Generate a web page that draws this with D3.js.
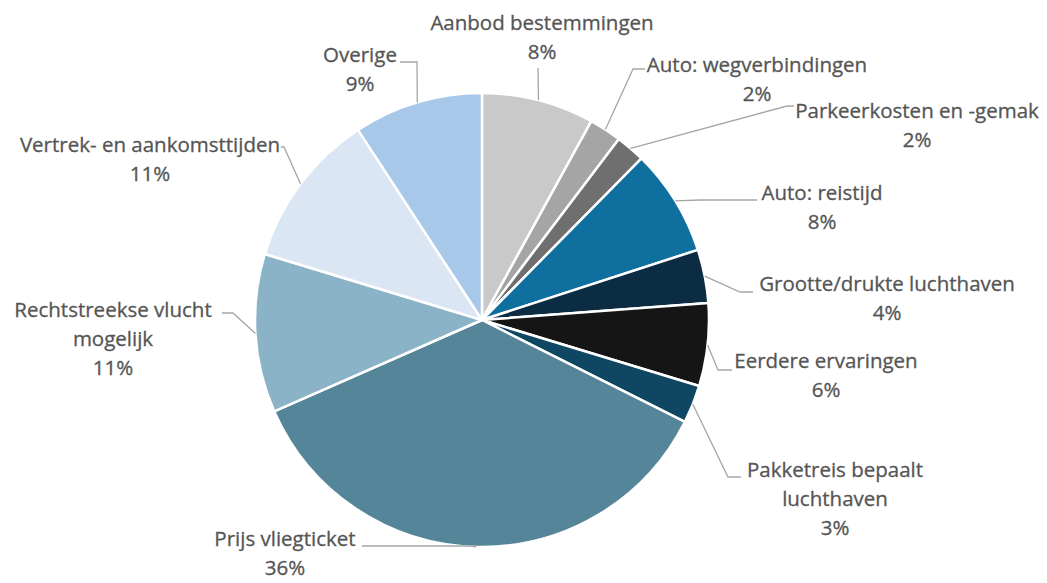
<!DOCTYPE html>
<html>
<head>
<meta charset="utf-8">
<script src="https://cdn.jsdelivr.net/npm/d3@7"></script>
<style>
  body { margin: 0; background: #fff; }
  text { font-family: "Open Sans", sans-serif; font-size: 20.5px; fill: #555; stroke: #555; stroke-width: 0.3px; }
</style>
</head>
<body>
<div id="piechart"></div>
<script>
// data, clockwise from 12 o'clock

const categories = [
  "Aanbod bestemmingen", "Auto: wegverbindingen", "Parkeerkosten en -gemak",
  "Auto: reistijd", "Grootte/drukte luchthaven", "Eerdere ervaringen",
  "Pakketreis bepaalt luchthaven", "Prijs vliegticket", "Rechtstreekse vlucht mogelijk",
  "Vertrek- en aankomsttijden", "Overige"
];
const values = [8.0, 2.3, 2.1, 7.6, 3.8, 5.9, 2.7, 36.0, 11.3, 11.1, 9.2];
const colors = [
  "#c9c9c9", "#a5a5a5", "#6f6f6f", "#0f6f9e", "#0b2c42", "#151515",
  "#0f4661", "#548599", "#8bb3c7", "#dbe6f4", "#a8c8e9"
];
// how each label is broken into lines
const labelLines = [
  ["Aanbod bestemmingen"], ["Auto: wegverbindingen"], ["Parkeerkosten en -gemak"],
  ["Auto: reistijd"], ["Grootte/drukte luchthaven"], ["Eerdere ervaringen"],
  ["Pakketreis bepaalt", "luchthaven"], ["Prijs vliegticket"],
  ["Rechtstreekse vlucht", "mogelijk"], ["Vertrek- en aankomsttijden"], ["Overige"]
];

// label layout: text centre x, first baseline, line step, leader elbow and end
const labelPos = [
  [542, 30, 29], [757, 72, 29], [917, 118, 29], [822, 200, 29], [887, 291, 29], [826, 368, 29],
  [835, 477, 29], [285, 546, 29], [113, 317, 29], [150, 152, 29], [360, 62, 29]
];
const leaderPts = [
  [[538, 68], [538, 68]], [[633, 69], [645, 69]], [[787, 106], [794, 106]],
  [[700, 200], [757, 200]], [[740, 292], [753, 292]], [[718, 370], [732, 370]],
  [[728, 477], [741, 477]], [[470, 546], [362, 546]], [[233, 313], [222, 313]],
  [[284, 147], [281, 147]], [[417, 62], [400, 62]]
];

const width = 1047, height = 583;
const cx = 482, cy = 320, radius = 227;

const svg = d3.select("#piechart")
  .append("svg")
    .attr("width", width)
    .attr("height", height);

const total = d3.sum(values);
const pie = d3.pie().sort(null).value(d => d)(values);
const arc = d3.arc().innerRadius(0).outerRadius(radius);

const g = svg.append("g")
  .attr("transform", `translate(${cx},${cy})`);

g.selectAll("path.slice")
  .data(pie)
  .enter()
  .append("path")
    .attr("class", "slice")
    .attr("d", arc)
    .attr("fill", (d, i) => colors[i])
    .attr("stroke", "#fff")
    .attr("stroke-width", 2.5)
    .attr("stroke-linejoin", "round");

// leader lines start on the rim at the middle of each slice
function rimPoint(d) {
  const a = (d.startAngle + d.endAngle) / 2;
  return [cx + radius * Math.sin(a), cy - radius * Math.cos(a)];
}

svg.selectAll("polyline.leader")
  .data(pie)
  .enter()
  .append("polyline")
    .attr("class", "leader")
    .attr("points", (d, i) => [rimPoint(d), leaderPts[i][0], leaderPts[i][1]].map(p => p.join(",")).join(" "))
    .attr("fill", "none")
    .attr("stroke", "#a6a6a6")
    .attr("stroke-width", 1.3);

// labels
const labels = svg.selectAll("text.label")
  .data(pie)
  .enter()
  .append("text")
    .attr("class", "label")
    .attr("text-anchor", "middle");

labels.each(function(d, i) {
  const t = d3.select(this);
  const lines = labelLines[i].concat([Math.round(d.data / total * 100) + "%"]);
  lines.forEach((s, k) => {
    t.append("tspan")
      .attr("x", labelPos[i][0])
      .attr("y", labelPos[i][1] + k * labelPos[i][2])
      .text(s);
  });
});
</script>
</body>
</html>
